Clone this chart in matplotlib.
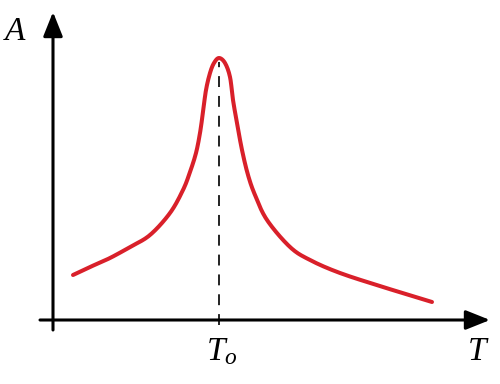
import matplotlib
matplotlib.use("Agg")
import matplotlib.pyplot as plt
import numpy as np

# Resonance curve data (arbitrary units)
T = [0.20, 0.37, 0.57, 0.77, 0.97, 1.17, 1.30, 1.37, 1.43, 1.47, 1.50, 1.53,
     1.57, 1.61, 1.66, 1.72, 1.77, 1.80, 1.84, 1.89, 1.95, 2.02, 2.14, 2.37,
     2.57, 2.87, 3.30, 3.79]
A = [0.45, 0.53, 0.62, 0.73, 0.85, 1.07, 1.30, 1.48, 1.67, 1.87, 2.08, 2.30,
     2.47, 2.57, 2.62, 2.57, 2.43, 2.20, 1.97, 1.70, 1.45, 1.25, 1.00, 0.73,
     0.60, 0.47, 0.33, 0.18]
T0 = 1.66
A_dash_top = 2.58


def catmull_rom(x, y, n=12):
    """Smooth rendering of the polyline through the data points."""
    x = np.asarray(x, float)
    y = np.asarray(y, float)
    px = np.concatenate([[2 * x[0] - x[1]], x, [2 * x[-1] - x[-2]]])
    py = np.concatenate([[2 * y[0] - y[1]], y, [2 * y[-1] - y[-2]]])
    xs, ys = [], []
    t = np.linspace(0, 1, n, endpoint=False)
    for i in range(1, len(px) - 2):
        for arr, out in ((px, xs), (py, ys)):
            p0, p1, p2, p3 = arr[i - 1], arr[i], arr[i + 1], arr[i + 2]
            out.extend(0.5 * ((2 * p1) + (-p0 + p2) * t +
                              (2 * p0 - 5 * p1 + 4 * p2 - p3) * t ** 2 +
                              (-p0 + 3 * p1 - 3 * p2 + p3) * t ** 3))
    xs.append(x[-1])
    ys.append(y[-1])
    return np.array(xs), np.array(ys)


plt.rcParams['mathtext.fontset'] = 'custom'
plt.rcParams['mathtext.it'] = 'Liberation Serif:italic'
plt.rcParams['mathtext.rm'] = 'Liberation Serif'

fig = plt.figure(figsize=(5, 3.84), dpi=100)
ax = fig.add_axes([0, 0, 1, 1])
ax.set_xlim(-0.53, 4.47)
ax.set_ylim(-0.64, 3.20)
ax.axis('off')

arrow_kw = dict(arrowstyle='-|>,head_length=0.4,head_width=0.16', lw=2.2,
                color='black', mutation_scale=37, shrinkA=0, shrinkB=0)
ax.annotate('', xy=(0, 3.08), xytext=(0, -0.10), arrowprops=arrow_kw)
ax.annotate('', xy=(4.37, 0), xytext=(-0.13, 0), arrowprops=arrow_kw)

ax.plot([T0, T0], [-0.05, A_dash_top], color='#222222', lw=1.4,
        linestyle=(0, (5.6, 4.6)))

sx, sy = catmull_rom(T, A)
ax.plot(sx, sy, color='#d9202a', lw=2.9, solid_capstyle='round',
        solid_joinstyle='round')

ax.text(-0.38, 2.90, r'$A$', fontsize=24, ha='center', va='center')
ax.text(4.25, -0.30, r'$T$', fontsize=24, ha='center', va='center')
ax.text(1.69, -0.31, r'$T_o$', fontsize=24, ha='center', va='center')

fig.savefig('out.png', dpi=100)
